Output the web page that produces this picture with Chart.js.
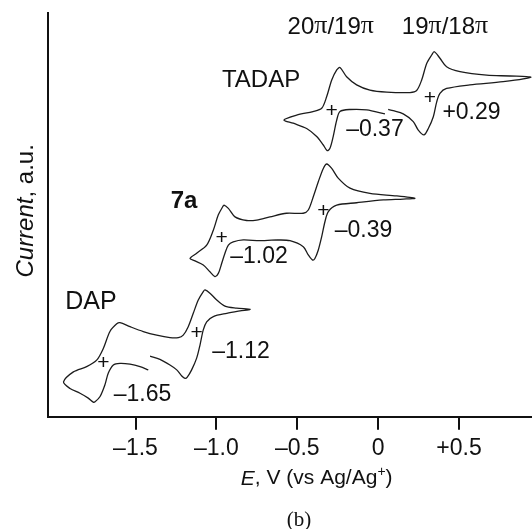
<!DOCTYPE html>
<html>
<head>
<meta charset="utf-8">
<script src="https://cdn.jsdelivr.net/npm/chart.js@4.4.1/dist/chart.umd.min.js"></script>
<style>
  html, body { margin: 0; padding: 0; background: #fff; }
  #wrap { width: 532px; height: 529px; position: relative; }
</style>
</head>
<body>
<div id="wrap"><canvas id="cv"></canvas></div>
<script>
const tickValues = [-1.5, -1.0, -0.5, 0, 0.5];
const tickLabels = ["–1.5", "–1.0", "–0.5", "0", "+0.5"];

// E in V, current in a.u. (traces offset); each scan starts at the rest potential,
// goes cathodic to the left tip, anodic to the right tip, then back
const tadapE = [0.042, -0.071, -0.174, -0.236, -0.256, -0.278, -0.298, -0.315, -0.339, -0.380, -0.442, -0.525,
  -0.582, -0.504, -0.403, -0.349, -0.318, -0.287, -0.256, -0.236, -0.195, -0.133, -0.051, 0.053, 0.197, 0.238, 0.269, 0.300, 0.331, 0.347, 0.382, 0.423, 0.506, 0.671, 0.815, 0.944,
  0.773, 0.567, 0.423, 0.382, 0.362, 0.341, 0.310, 0.283, 0.248, 0.217, 0.155, 0.093, 0.062];
const tadapI = [75.0, 76.0, 76.1, 75.6, 73.5, 69.4, 66.5, 65.9, 67.3, 69.4, 71.4, 72.7,
  73.5, 74.7, 75.6, 76.4, 79.3, 83.4, 85.9, 86.5, 84.2, 82.2, 80.9, 80.4, 80.3, 80.8, 83.4, 87.5, 89.6, 90.4, 88.8, 86.7, 85.5, 84.6, 84.4, 84.1,
  83.0, 82.2, 81.3, 80.1, 78.0, 74.3, 71.4, 69.8, 71.0, 73.1, 75.0, 75.8, 76.1];

const sevenE = [-0.627, -0.731, -0.834, -0.896, -0.926, -0.947, -0.967, -0.988, -1.009, -1.040, -1.081, -1.132,
  -1.163, -1.122, -1.060, -1.019, -0.988, -0.961, -0.953, -0.926, -0.885, -0.813, -0.751, -0.669, -0.566, -0.463, -0.432, -0.401, -0.370, -0.339, -0.318, -0.287, -0.247, -0.174, -0.051, 0.114, 0.227,
  0.155, 0.032, -0.133, -0.256, -0.308, -0.329, -0.349, -0.370, -0.391, -0.405, -0.432, -0.463, -0.545, -0.627];
const sevenI = [43.8, 43.6, 43.8, 43.3, 42.5, 40.5, 38.0, 35.5, 34.7, 35.9, 37.6, 38.6,
  39.2, 40.5, 42.5, 46.2, 50.0, 52.0, 52.4, 51.6, 49.5, 48.6, 48.7, 49.5, 50.4, 50.4, 51.2, 54.5, 58.2, 61.5, 62.6, 61.5, 59.1, 56.6, 55.3, 54.7, 54.1,
  53.9, 53.7, 53.0, 52.4, 50.8, 48.3, 44.6, 41.3, 39.2, 38.8, 40.1, 42.1, 43.6, 43.8];

const dapE = [-1.421, -1.472, -1.534, -1.596, -1.637, -1.668, -1.689, -1.719, -1.750, -1.761, -1.792, -1.843, -1.905,
  -1.945, -1.884, -1.802, -1.740, -1.699, -1.658, -1.616, -1.596, -1.534, -1.452, -1.369, -1.287, -1.235, -1.205, -1.174, -1.143, -1.112, -1.081, -1.070, -1.040, -0.998, -0.947, -0.875, -0.792,
  -0.854, -0.936, -1.019, -1.060, -1.081, -1.101, -1.122, -1.153, -1.180, -1.194, -1.214, -1.245, -1.287, -1.349, -1.410];
const dapI = [11.6, 12.4, 13.0, 13.2, 12.8, 10.8, 7.9, 5.0, 3.7, 3.6, 4.6, 5.8, 7.0,
  8.6, 11.1, 12.4, 14.0, 16.9, 21.1, 23.0, 23.3, 22.3, 21.1, 20.2, 19.6, 19.6, 20.2, 22.3, 25.6, 28.9, 31.0, 31.4, 30.6, 28.9, 27.4, 26.9, 26.6,
  26.2, 25.6, 24.8, 23.5, 21.5, 17.8, 14.5, 11.6, 9.8, 9.5, 10.1, 11.6, 12.8, 14.2, 15.0];

// half-wave potential marks and their labels
const markE = [-0.287, 0.320, -0.967, -0.339, -1.699, -1.122];
const markI = [75.6, 78.9, 44.2, 50.8, 13.2, 20.7];
const valueText = ["–0.37", "+0.29", "–1.02", "–0.39", "–1.65", "–1.12"];
const valueE = [-0.020, 0.577, -0.737, -0.091, -1.457, -0.848];
const valueI = [71.0, 75.2, 39.6, 46.2, 5.4, 16.0];
const nameText = ["TADAP", "7a", "DAP"];
const nameE = [-0.724, -1.200, -1.775];
const nameI = [83.2, 53.4, 28.4];
const couples = [["20", "19"], ["19", "18"]];
const coupleE = [-0.293, 0.413];
const coupleI = 96.4;

const SANS = "'Liberation Sans', Arial, sans-serif";
const SERIF = "'Liberation Serif', 'Times New Roman', serif";
const INK = "#111";

function trace(label, E, I) {
  return {
    label,
    data: E.map((e, i) => ({ x: e, y: I[i] })),
    showLine: true,
    borderColor: "#1c1c1c",
    borderWidth: 1.3,
    pointRadius: 0,
    tension: 0.3,
  };
}

// parts: [text, font, dy]
function drawRich(ctx, parts, x, y) {
  let w = 0;
  for (const p of parts) { ctx.font = p[1]; w += ctx.measureText(p[0]).width; }
  let cx = x - w / 2;
  ctx.textAlign = "left";
  ctx.textBaseline = "middle";
  for (const p of parts) {
    ctx.font = p[1];
    ctx.fillText(p[0], cx, y + (p[2] || 0));
    cx += ctx.measureText(p[0]).width;
  }
}

const annotate = {
  id: "annotate",
  afterDatasetsDraw(chart) {
    const { ctx, scales: { x, y } } = chart;
    ctx.save();
    ctx.fillStyle = INK;
    ctx.textAlign = "center";
    ctx.textBaseline = "middle";

    ctx.font = "21px " + SANS;
    markE.forEach((e, i) => ctx.fillText("+", x.getPixelForValue(e), y.getPixelForValue(markI[i])));

    ctx.font = "23px " + SANS;
    valueText.forEach((t, i) => ctx.fillText(t, x.getPixelForValue(valueE[i]), y.getPixelForValue(valueI[i])));

    nameText.forEach((t, i) => {
      ctx.font = (t === "7a" ? "bold 24px " : t === "DAP" ? "25px " : "24px ") + SANS;
      ctx.fillText(t, x.getPixelForValue(nameE[i]), y.getPixelForValue(nameI[i]));
    });

    couples.forEach((c, i) => {
      const sans = "24px " + SANS, pi = "26px " + SERIF;
      drawRich(ctx, [[c[0], sans], ["π", pi, -1], ["/" + c[1], sans], ["π", pi, -1]],
        x.getPixelForValue(coupleE[i]), y.getPixelForValue(coupleI));
    });
    ctx.restore();
  },
  afterDraw(chart) {
    const { ctx, chartArea, scales: { x } } = chart;
    ctx.save();
    ctx.fillStyle = INK;
    const f = "21px " + SANS;
    drawRich(ctx, [["E", "italic " + f], [", V (vs Ag/Ag", f], ["+", "14px " + SANS, -7], [")", f]],
      x.getPixelForValue(-0.38), chartArea.bottom + 62);

    ctx.translate(26, (chartArea.top + chartArea.bottom) / 2 - 4);
    ctx.rotate(-Math.PI / 2);
    const g = "24px " + SANS;
    drawRich(ctx, [["Current", "italic " + g], [", a.u.", g]], 0, 0);
    ctx.restore();

    ctx.save();
    ctx.fillStyle = INK;
    ctx.font = "21px " + SERIF;
    ctx.textAlign = "center";
    ctx.textBaseline = "middle";
    ctx.fillText("(b)", x.getPixelForValue(-0.49), chartArea.bottom + 104);
    ctx.restore();
  },
};

new Chart(document.getElementById("cv"), {
  type: "scatter",
  data: {
    datasets: [
      trace("TADAP", tadapE, tadapI),
      trace("7a", sevenE, sevenI),
      trace("DAP", dapE, dapI),
    ],
  },
  options: {
    responsive: true,
    maintainAspectRatio: false,
    animation: false,
    events: [],
    layout: { padding: { top: 13, left: 0, right: 0, bottom: 0 } },
    scales: {
      x: {
        type: "linear",
        min: -2.044,
        max: 0.951,
        afterFit: (s) => { s.height = 112.3; },
        afterBuildTicks: (s) => { s.ticks = tickValues.map((v) => ({ value: v })); },
        ticks: {
          color: INK,
          padding: 5,
          maxRotation: 0,
          font: { family: SANS, size: 23 },
          callback: (v) => tickLabels[tickValues.indexOf(v)],
        },
        grid: { display: true, drawOnChartArea: false, drawTicks: true, tickLength: 13, color: INK, lineWidth: 2 },
        border: { display: true, color: INK, width: 2 },
      },
      y: {
        type: "linear",
        min: 0,
        max: 100,
        afterFit: (s) => { s.width = 47.5; },
        ticks: { display: false },
        grid: { display: false, drawTicks: false },
        border: { display: true, color: INK, width: 2 },
      },
    },
    plugins: {
      legend: { display: false },
      tooltip: { enabled: false },
    },
  },
  plugins: [annotate],
});
</script>
</body>
</html>
